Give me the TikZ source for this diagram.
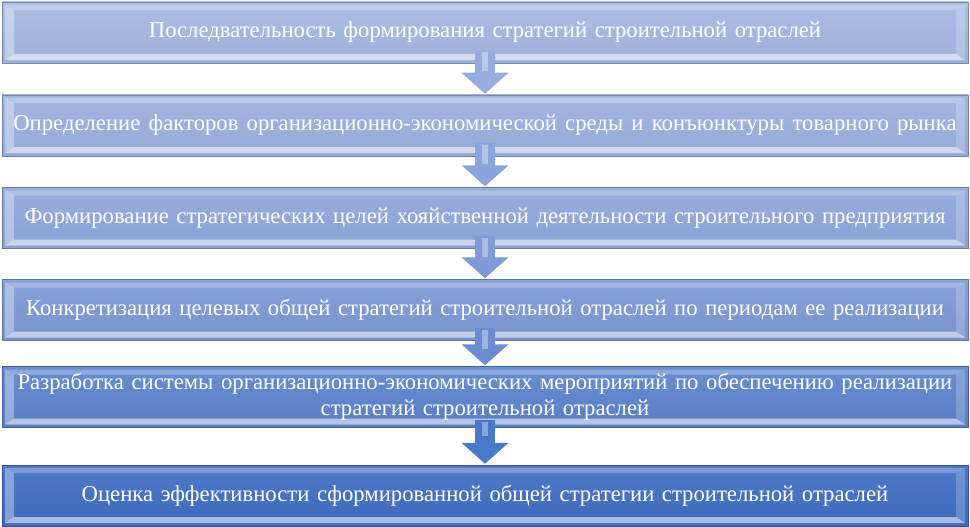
\documentclass[tikz,border=0pt]{standalone}
\usepackage{fontspec}
\setmainfont{Liberation Serif}
\usetikzlibrary{arrows.meta,calc}
\definecolor{cA}{RGB}{165,184,226}
\definecolor{cB}{RGB}{155,176,223}
\definecolor{cC}{RGB}{143,167,220}
\definecolor{cD}{RGB}{125,153,214}
\definecolor{cE}{RGB}{92,131,205}
\definecolor{cF}{RGB}{64,110,196}
\definecolor{aA}{RGB}{150,172,222}
\definecolor{aB}{RGB}{140,164,219}
\definecolor{aC}{RGB}{128,154,215}
\definecolor{aD}{RGB}{108,140,210}
\definecolor{aE}{RGB}{74,120,202}
\tikzset{
  stage/.style={minimum width=966pt, minimum height=61pt, inner sep=0pt,
    text width=962pt, align=center, text=white,
    font=\fontsize{22.7}{26}\selectfont,
    draw=#1!75!black, line width=0.5pt,
    top color=#1!92!white, bottom color=#1!96!black,
    path picture={
      \fill[white,opacity=0.55]
        ([xshift=3pt,yshift=3pt]path picture bounding box.south west) --
        ([xshift=-3pt,yshift=3pt]path picture bounding box.south east) --
        ([xshift=-12pt,yshift=9pt]path picture bounding box.south east) --
        ([xshift=12pt,yshift=9pt]path picture bounding box.south west) -- cycle;
      \fill[white,opacity=0.35]
        ([xshift=3pt,yshift=-3pt]path picture bounding box.north west) --
        ([xshift=12pt,yshift=-8pt]path picture bounding box.north west) --
        ([xshift=12pt,yshift=9pt]path picture bounding box.south west) --
        ([xshift=3pt,yshift=3pt]path picture bounding box.south west) -- cycle;
      \fill[white,opacity=0.2]
        ([xshift=-3pt,yshift=-3pt]path picture bounding box.north east) --
        ([xshift=-12pt,yshift=-8pt]path picture bounding box.north east) --
        ([xshift=-12pt,yshift=9pt]path picture bounding box.south east) --
        ([xshift=-3pt,yshift=3pt]path picture bounding box.south east) -- cycle;
      \fill[white,opacity=0.25]
        ([xshift=3pt,yshift=-3pt]path picture bounding box.north west) --
        ([xshift=-3pt,yshift=-3pt]path picture bounding box.north east) --
        ([xshift=-12pt,yshift=-8pt]path picture bounding box.north east) --
        ([xshift=12pt,yshift=-8pt]path picture bounding box.north west) -- cycle;
    }},
  flow/.style={draw=#1, line width=20pt, line cap=butt,
    -{Triangle[width=46pt,length=21pt,fill=#1]}},
  flowhl/.style={draw=white, opacity=0.35, line width=6pt, line cap=butt}
}
\begin{document}
\begin{tikzpicture}[x=1pt,y=-1pt]
\useasboundingbox (0,0) rectangle (970,527);
\node[stage=cA] (b1) at (485,32.5) {Последвательность формирования стратегий строительной отраслей};
\node[stage=cB] (b2) at (485,125.5) {\spaceskip=8pt plus 1pt minus 1pt Определение факторов организационно-экономической среды и конъюнктуры товарного рынка};
\node[stage=cC] (b3) at (485,218) {Формирование стратегических целей хояйственной деятельности строительного предприятия};
\node[stage=cD] (b4) at (485,310) {Конкретизация целевых общей стратегий строительной отраслей по периодам ее реализации};
\node[stage=cE] (b5) at (485,397) {Разработка системы организационно-экономических мероприятий по обеспечению реализации\\ стратегий строительной отраслей};
\node[stage=cF] (b6) at (485,495.5) {Оценка эффективности сформированной общей стратегии строительной отраслей};
\draw[flow=aA] ([yshift=13pt]b1.south) -- ([yshift=1pt]b2.north);
\draw[flow=aB] ([yshift=13pt]b2.south) -- ([yshift=1pt]b3.north);
\draw[flow=aC] ([yshift=13pt]b3.south) -- ([yshift=1pt]b4.north);
\draw[flow=aD] ([yshift=13pt]b4.south) -- ([yshift=1pt]b5.north);
\draw[flow=aE] ([yshift=8pt]b5.south) -- ([yshift=1pt]b6.north);
\draw[flowhl] ([yshift=11pt]b1.south) -- ([yshift=-8pt]b1.south);
\draw[flowhl] ([yshift=11pt]b2.south) -- ([yshift=-8pt]b2.south);
\draw[flowhl] ([yshift=11pt]b3.south) -- ([yshift=-8pt]b3.south);
\draw[flowhl] ([yshift=11pt]b4.south) -- ([yshift=-8pt]b4.south);
\draw[flowhl] ([yshift=6pt]b5.south) -- ([yshift=-8pt]b5.south);
\end{tikzpicture}
\end{document}
